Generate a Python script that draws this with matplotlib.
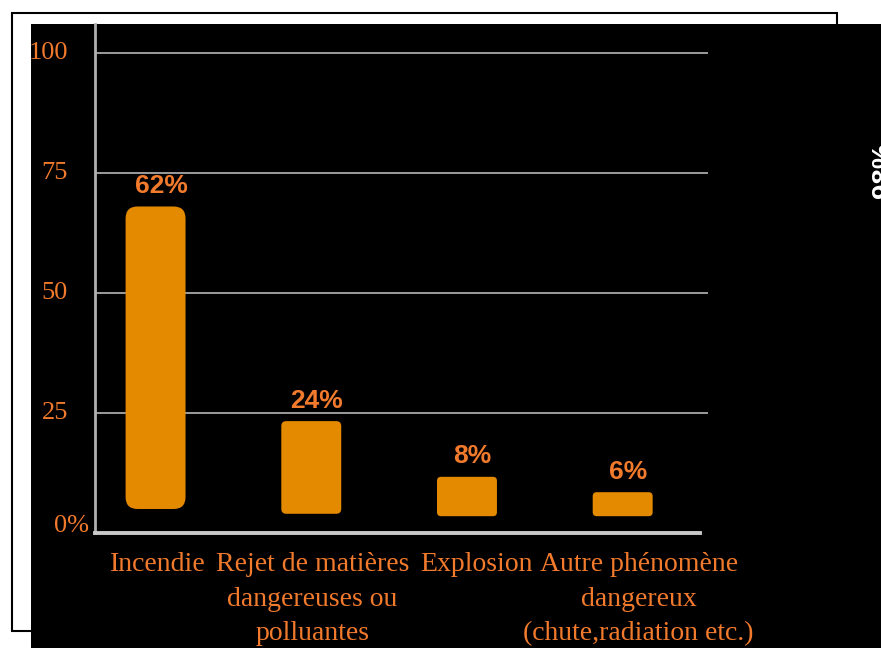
import matplotlib.pyplot as plt
from matplotlib.patches import Rectangle, FancyBboxPatch
from matplotlib.transforms import blended_transform_factory

# donnees
categories = ["Incendie",
              "Rejet de matières\ndangereuses ou\npolluantes",
              "Explosion",
              "Autre phénomène\ndangereux\n(chute,radiation etc.)"]
pourcentages = [62, 24, 8, 6]
haut_barre = [68.0, 23.3, 11.7, 8.5]   # sommet des barres tel que dessine
bas_barre = [5.0, 4.0, 3.5, 3.5]       # les barres ne partent pas de 0
graduations = [0, 25, 50, 75, 100]
etiquettes_y = ["0%", "25", "50", "75", "100"]

orange_barre = "#e38a00"
orange_texte = "#f27a2c"
gris = "#a8a8a8"

W, H = 881, 648
fig = plt.figure(figsize=(W / 100, H / 100), dpi=100)
fig.patch.set_facecolor("white")


def fx(px):
    return px / W


def fy(py):
    return 1 - py / H


# cadre blanc + panneau noir derriere
fig.patches.append(Rectangle((fx(12), fy(631)), fx(837) - fx(12), fy(13) - fy(631),
                             transform=fig.transFigure, fc="white", ec="black",
                             lw=1.5, zorder=-10))
fig.patches.append(Rectangle((fx(31), 0), 1 - fx(31), fy(24),
                             transform=fig.transFigure, fc="black", ec="none",
                             zorder=-9))

ax = fig.add_axes([fx(95), fy(533), fx(708) - fx(95), fy(24) - fy(533)])
ax.set_facecolor("black")
ax.patch.set_alpha(0)

x = list(range(len(categories)))
hauteurs = [t - b for t, b in zip(haut_barre, bas_barre)]
barres = ax.bar(x, hauteurs, bottom=bas_barre, width=0.385, color=orange_barre)

ax.set_xlim(-0.389, 3.548)
ax.set_ylim(0, 106)

# coins arrondis
px_x = 155.7
px_y = 4.8
rayons = [12, 5, 4, 4]
for b, r in zip(barres, rayons):
    b.set_visible(False)
    p = FancyBboxPatch((b.get_x(), b.get_y()), b.get_width(), b.get_height(),
                       boxstyle="round,pad=0,rounding_size=%f" % (r / px_x),
                       mutation_aspect=px_x / px_y,
                       fc=orange_barre, ec="none", zorder=3)
    ax.add_patch(p)

for i, (v, t) in enumerate(zip(pourcentages, haut_barre)):
    ax.annotate(f"{v}%", xy=(i, t), xytext=(4, 6), textcoords="offset points",
                ha="center", va="bottom", color=orange_texte, fontsize=19,
                fontweight="bold", family="Liberation Sans")

# grille
for g in graduations[1:]:
    ax.axhline(g, color=gris, lw=1.3, zorder=1)

for s in ["top", "right"]:
    ax.spines[s].set_visible(False)
ax.spines["left"].set_color("#b0b0b0")
ax.spines["left"].set_linewidth(2)
ax.spines["bottom"].set_color("#c8c8c8")
ax.spines["bottom"].set_linewidth(2.8)
ax.spines["bottom"].set_bounds(-0.389, 3.497)
ax.set_xticks([])
ax.set_yticks([])

# etiquettes de l'axe y
ty = blended_transform_factory(ax.transAxes, ax.transData)
for g, lab in zip(graduations, etiquettes_y):
    if lab == "0%":
        ax.text(-0.010, g + 1.5, lab, transform=ty, ha="right", va="center",
                color=orange_texte, fontsize=19, family="Liberation Serif")
    else:
        ax.text(-0.044, g, lab, transform=ty, ha="right", va="center",
                color=orange_texte, fontsize=19, family="Liberation Serif")

# etiquettes des categories
decalage = [2, 1, 9, 16]
for i, (lab, d) in enumerate(zip(categories, decalage)):
    ax.annotate(lab, xy=(i, 0), xytext=(d * 0.72, -14), textcoords="offset points",
                ha="center", va="top", color=orange_texte, fontsize=20,
                family="Liberation Serif", linespacing=1.5, annotation_clip=False)

# texte coupe sur le bord droit (deja coupe dans l'original)
fig.text(fx(884), fy(170), "98%", rotation=90, color="white", fontsize=20,
         fontweight="bold", family="Liberation Sans", ha="center", va="center")

fig.savefig("out.png", dpi=100, facecolor="white")
